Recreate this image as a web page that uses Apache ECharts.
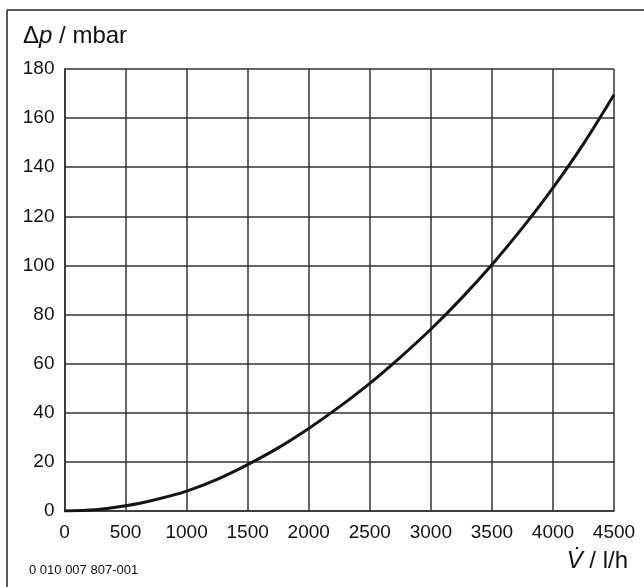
<!DOCTYPE html>
<html>
<head>
<meta charset="utf-8">
<script src="https://cdn.jsdelivr.net/npm/echarts@6/dist/echarts.min.js"></script>
<style>
  html, body { margin: 0; padding: 0; background: #fff; }
  #chart { width: 644px; height: 587px; }
</style>
</head>
<body>
<div id="chart"></div>
<script>
// volume flow in l/h and pressure drop in mbar
const flowRates = [0, 250, 500, 750, 1000, 1250, 1500, 1750, 2000, 2250, 2500, 2750, 3000, 3250, 3500, 3750, 4000, 4250, 4500];
const pressureDrops = [0, 0.5, 2.1, 4.7, 8.1, 12.9, 18.9, 25.7, 33.6, 42.4, 52, 62.6, 74, 86.6, 100.3, 115.3, 131.6, 149.5, 169.5];

const fontName = '"Liberation Sans", Arial, sans-serif';
const gridColor = '#333';

const chartDom = document.getElementById('chart');
const myChart = echarts.init(chartDom);

const option = {
  animation: false,
  backgroundColor: '#fff',
  grid: { left: 64.5, top: 69, right: 30, bottom: 76 },
  xAxis: {
    type: 'value',
    min: 0,
    max: 4500,
    interval: 500,
    axisLine: { show: true, lineStyle: { color: gridColor, width: 1.5 } },
    axisTick: { show: false },
    axisLabel: {
      color: '#111', fontFamily: fontName, fontSize: 19, margin: 12,
      formatter: v => String(v)
    },
    splitLine: { show: true, lineStyle: { color: gridColor, width: 1.5 } }
  },
  yAxis: {
    type: 'value',
    min: 0,
    max: 180,
    interval: 20,
    axisLine: { show: true, lineStyle: { color: gridColor, width: 1.5 } },
    axisTick: { show: false },
    axisLabel: { color: '#111', fontFamily: fontName, fontSize: 19, margin: 10 },
    splitLine: { show: true, lineStyle: { color: gridColor, width: 1.5 } }
  },
  series: [
    {
      type: 'line',
      data: flowRates.map((v, i) => [v, pressureDrops[i]]),
      smooth: 0.3,
      showSymbol: false,
      lineStyle: { color: '#151515', width: 3 }
    }
  ],
  graphic: [
    { type: 'line', shape: { x1: 7, y1: 10, x2: 644, y2: 10 }, style: { stroke: '#222', lineWidth: 1.5 } },
    { type: 'line', shape: { x1: 7, y1: 10, x2: 7, y2: 587 }, style: { stroke: '#222', lineWidth: 1.5 } },
    {
      type: 'text', left: 23, top: 24,
      style: {
        text: '{n|Δ}{i|p}{n| / mbar}',
        rich: {
          n: { fontFamily: fontName, fontSize: 24, fill: '#111' },
          i: { fontFamily: fontName, fontSize: 24, fontStyle: 'italic', fill: '#111' }
        }
      }
    },
    {
      type: 'text', right: 16, top: 549,
      style: {
        text: '{i|V\u0307}{n| / l/h}',
        rich: {
          n: { fontFamily: fontName, fontSize: 24, fill: '#111' },
          i: { fontFamily: fontName, fontSize: 24, fontStyle: 'italic', fill: '#111' }
        }
      }
    },
    {
      type: 'text', left: 29, top: 564,
      style: { text: '0 010 007 807-001', fontFamily: fontName, fontSize: 13, fill: '#111' }
    }
  ]
};

option && myChart.setOption(option);
</script>
</body>
</html>
